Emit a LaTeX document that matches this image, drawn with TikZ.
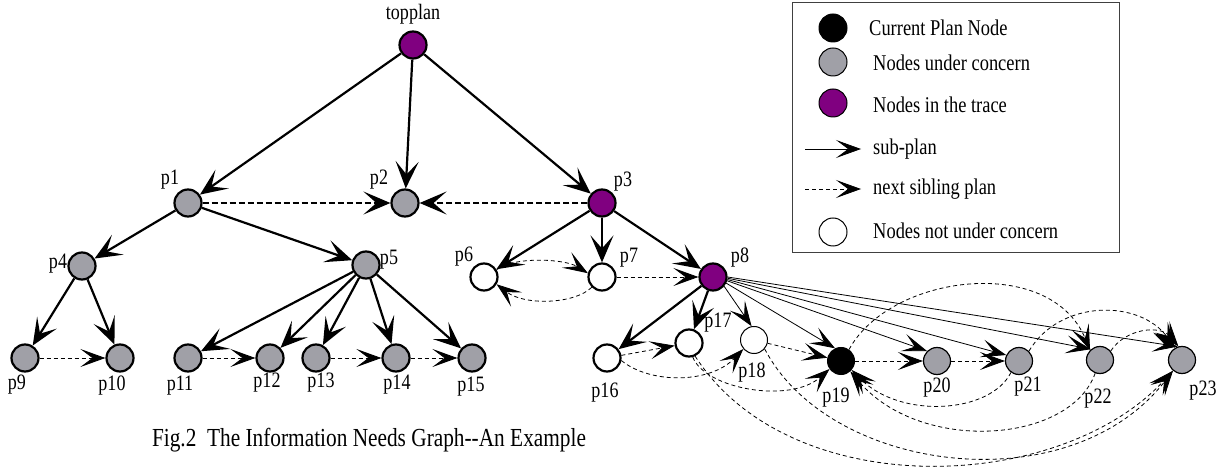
\documentclass[tikz,border=0pt]{standalone}
\usepackage{fontspec}
\setmainfont{Liberation Serif}
\usetikzlibrary{arrows.meta}
\definecolor{ngrey}{RGB}{160,160,167}
\definecolor{npurple}{RGB}{128,0,128}
\newcommand{\nlab}[1]{\scalebox{0.82}[1]{#1}}
\begin{document}
\begin{tikzpicture}[x=1pt,y=1pt,
  pn/.style={circle, draw=black, minimum size=27pt, inner sep=0pt, line width=2.2pt},
  grn/.style={pn, fill=ngrey},
  prn/.style={pn, fill=npurple},
  whn/.style={pn, fill=white},
  thinb/.style={line width=1pt},
  lbl/.style={font=\fontsize{22}{22}\selectfont, inner sep=0pt},
  leg/.style={font=\fontsize{22.5}{22.5}\selectfont, inner sep=0pt, anchor=west},
  sub/.style={line width=2.2pt, -{Stealth[length=27pt,width=23pt,inset=13pt]}},
  subthin/.style={line width=0.8pt, -{Stealth[length=25pt,width=18pt,inset=12pt]}},
  sibthick/.style={line width=2.2pt, dash pattern=on 6pt off 3pt, -{Stealth[length=27pt,width=23pt,inset=13pt]}},
  sib/.style={line width=0.8pt, dash pattern=on 4pt off 3pt, -{Stealth[length=25pt,width=18pt,inset=12pt]}},
]
\fill[white] (0,0) rectangle (1226,474);
\useasboundingbox (0,0) rectangle (1226,474);

% nodes
\node[prn] (top) at (413,429) {};
\node[grn] (p1) at (188,271) {};
\node[grn] (p2) at (405,271) {};
\node[prn] (p3) at (602,271) {};
\node[grn] (p4) at (82,208) {};
\node[grn] (p5) at (366,209) {};
\node[whn] (p6) at (484,197) {};
\node[whn] (p7) at (602,197) {};
\node[prn] (p8) at (713,197) {};
\node[grn] (p9) at (25,116) {};
\node[grn] (p10) at (120,116) {};
\node[grn] (p11) at (188,116) {};
\node[grn] (p12) at (270,116) {};
\node[grn] (p13) at (316,116) {};
\node[grn] (p14) at (396,116) {};
\node[grn] (p15) at (472,116) {};
\node[whn] (p16) at (607,116) {};
\node[whn] (p17) at (689,131) {};
\node[whn, thinb] (p18) at (754,134) {};
\node[pn, thinb, fill=black] (p19) at (841,113) {};
\node[grn, line width=1.2pt] (p20) at (937,113) {};
\node[grn, line width=1.2pt] (p21) at (1019,113) {};
\node[grn, line width=1.2pt] (p22) at (1100,114) {};
\node[grn, line width=1.2pt] (p23) at (1182,114) {};

% labels
\node[lbl] (ltop) at (413,460) {\nlab{topplan}};
\node[lbl] (l1) at (170,294) {\nlab{p1}};
\node[lbl] (l2) at (379,294) {\nlab{p2}};
\node[lbl] (l3) at (623,292) {\nlab{p3}};
\node[lbl] (l4) at (58,210) {\nlab{p4}};
\node[lbl] (l5) at (389,214) {\nlab{p5}};
\node[lbl] (l6) at (464,217) {\nlab{p6}};
\node[lbl] (l7) at (629,216) {\nlab{p7}};
\node[lbl] (l8) at (740,216) {\nlab{p8}};
\node[lbl] (l9) at (17,89) {\nlab{p9}};
\node[lbl] (l10) at (112,88) {\nlab{p10}};
\node[lbl] (l11) at (180,88) {\nlab{p11}};
\node[lbl] (l12) at (267,91) {\nlab{p12}};
\node[lbl] (l13) at (321,91) {\nlab{p13}};
\node[lbl] (l14) at (397,89) {\nlab{p14}};
\node[lbl] (l15) at (471,87) {\nlab{p15}};
\node[lbl] (l16) at (605,81) {\nlab{p16}};
\node[lbl] (l17) at (718,151) {\nlab{p17}};
\node[lbl] (l18) at (752,101) {\nlab{p18}};
\node[lbl] (l19) at (836,76) {\nlab{p19}};
\node[lbl] (l20) at (937,86) {\nlab{p20}};
\node[lbl] (l21) at (1028,87) {\nlab{p21}};
\node[lbl] (l22) at (1098,75) {\nlab{p22}};
\node[lbl] (l23) at (1203,83) {\nlab{p23}};

% sub-plan edges
\draw[sub] (top) -- (p1);
\draw[sub] (top) -- (p2);
\draw[sub] (top) -- (p3);
\draw[sub] (p1) -- (p4);
\draw[sub] (p1) -- (p5);
\draw[sub] (p4) -- (p9);
\draw[sub] (p4) -- (p10);
\draw[sub] (p5) -- (p11);
\draw[sub] (p5) -- (p12);
\draw[sub] (p5) -- (p13);
\draw[sub] (p5) -- (p14);
\draw[sub] (p5) -- (p15);
\draw[sub] (p3) -- (p6);
\draw[sub] (p3) -- (p7);
\draw[sub] (p3) -- (p8);
\draw[sub] (p8) -- (p16);
\draw[sub] (p8) -- (p17);
\draw[subthin] (p8.-40) -- (p18.100);
\draw[subthin] (p8.-25) -- (p19.115);
\draw[subthin] (p8.-15) -- (p20.135);
\draw[subthin] (p8.-10) -- (p21.155);
\draw[subthin] (p8.-5) -- (p22.130);
\draw[subthin] (p8.0) -- (p23.108);

% sibling edges
\draw[sibthick] (p1) -- (p2);
\draw[sibthick] (p3) -- (p2);
\draw[sib] (p9) -- (p10);
\draw[sib] (p11) -- (p12);
\draw[sib] (p13) -- (p14);
\draw[sib] (p14) -- (p15);
\draw[sib] (p6.30) .. controls (515,218) and (565,215) .. (p7.165);
\draw[sib] (p7.225) .. controls (575,170) and (525,168) .. (p6.-30);
\draw[sib] (p7) -- (p8);
\draw[sib] (p16) -- (p17);
\draw[sib] (p16.-10) .. controls (650,90) and (710,90) .. (p18.220);
\draw[sib] (p17.-75) .. controls (705,85) and (790,70) .. (p19.215);
\draw[sib] (p17.-65) .. controls (790,-30) and (1060,-20) .. (p23.230);
\draw[sib] (p18.-40) .. controls (830,0) and (1070,-30) .. (p23.230);
\draw[sib] (p18) -- (p19);
\draw[sib] (p19) -- (p20);
\draw[sib] (p20) -- (p21);
\draw[sib] (p21.235) .. controls (990,60) and (900,55) .. (p19.-40);
\draw[sib] (p22.250) .. controls (1070,30) and (920,20) .. (p19.-48);
\draw[sib] (p19.55) .. controls (890,200) and (1050,220) .. (p22.135);
\draw[sib] (p21.45) .. controls (1060,175) and (1140,175) .. (p23.120);
\draw[sib] (p22.40) .. controls (1125,145) and (1160,150) .. (p23.105);

% legend
\node[draw=black!75, line width=0.8pt, minimum width=327pt, minimum height=250pt, inner sep=0pt] (legend) at (955.5,347) {};
\node[pn, thinb, fill=black, minimum size=28pt] (lg1) at (833,446) {};
\node[pn, thinb, fill=ngrey, minimum size=28pt] (lg2) at (833,412) {};
\node[pn, thinb, fill=npurple, minimum size=28pt] (lg3) at (833,371) {};
\coordinate (la1) at (805,325);
\coordinate (lb1) at (861,325);
\coordinate (la2) at (805,285);
\coordinate (lb2) at (861,285);
\node[pn, thinb, fill=white, minimum size=28pt] (lg6) at (833,242) {};
\draw[subthin] (la1) -- (lb1);
\draw[sib] (la2) -- (lb2);
\node[leg] (lt1) at (869,446) {\nlab{Current Plan Node}};
\node[leg] (lt2) at (873,411) {\nlab{Nodes under concern}};
\node[leg] (lt3) at (873,369) {\nlab{Nodes in the trace}};
\node[leg] (lt4) at (873,325) {\nlab{sub-plan}};
\node[leg] (lt5) at (873,285) {\nlab{next sibling plan}};
\node[leg] (lt6) at (873,243) {\nlab{Nodes not under concern}};

% caption
\node[font=\fontsize{26}{26}\selectfont, inner sep=0pt] (cap) at (369,34) {\nlab{Fig.2\ \ The Information Needs Graph-{}-An Example}};
\end{tikzpicture}
\end{document}
